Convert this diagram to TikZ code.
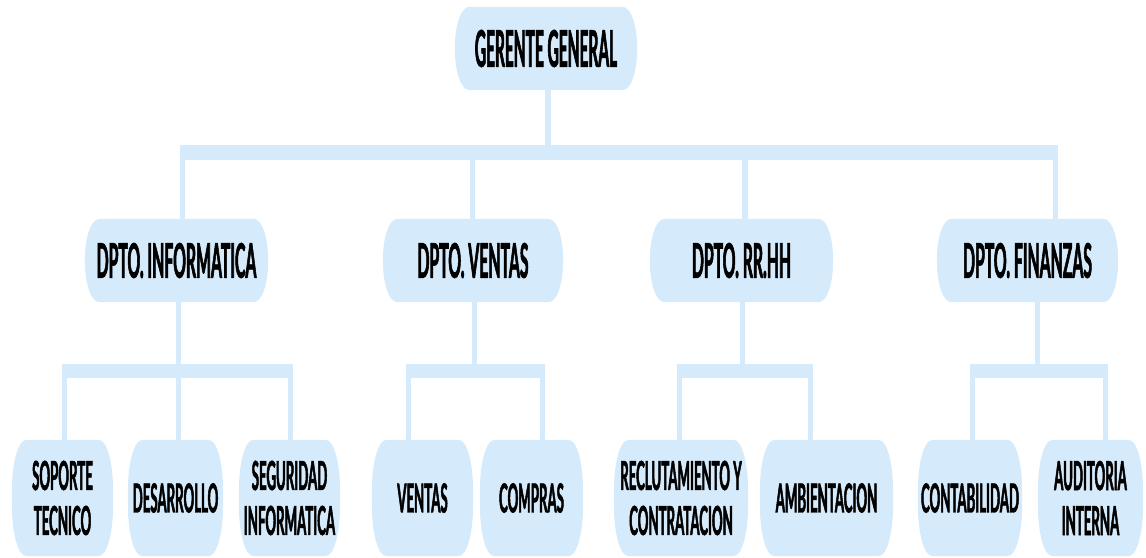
\documentclass[tikz,border=0pt]{standalone}
\usepackage{fontspec}
\setmainfont{Lato}[FakeStretch=0.33, FakeBold=1.2]
\newfontfamily\letrajefe{Lato}[FakeStretch=0.305, FakeBold=1.2]
\usetikzlibrary{calc}
\definecolor{celeste}{RGB}{213,234,250}
\tikzset{
	barril/.style={inner sep=0pt, align=center, path picture={
		\fill[celeste] let \p1=(path picture bounding box.south west), \p2=(path picture bounding box.north east) in
		(\x1+10pt,\y2) -- (\x2-10pt,\y2) .. controls (\x2-4.5pt,\y2) and (\x2,\y2-0.45*#1) .. (\x2,\y2-#1)
		-- (\x2,\y1+#1) .. controls (\x2,\y1+0.45*#1) and (\x2-4.5pt,\y1) .. (\x2-10pt,\y1)
		-- (\x1+10pt,\y1) .. controls (\x1+4.5pt,\y1) and (\x1,\y1+0.45*#1) .. (\x1,\y1+#1)
		-- (\x1,\y2-#1) .. controls (\x1,\y2-0.45*#1) and (\x1+4.5pt,\y2) .. cycle;}},
	barril/.default=28pt,
	jefe/.style={barril, minimum height=2.075cm, font=\letrajefe\bfseries\fontsize{36}{43}\selectfont},
	depto/.style={barril, minimum height=2.075cm, font=\bfseries\fontsize{34}{40}\selectfont},
	hoja/.style={barril=35pt, minimum height=2.9cm, font=\bfseries\fontsize{28.5}{32}\selectfont},
	linea/.style={draw=celeste, line width=3.6pt},
	barra/.style={draw=celeste, line width=10pt}
}

\begin{document}
\begin{tikzpicture}[x=0.025cm, y=-0.025cm]
		%%%%% START %%%%%
		\useasboundingbox (0, 0) rectangle (1146, 558);
		
		\node[jefe, minimum width=4.55cm] (gg) at (546, 48.5) {GERENTE GENERAL};
		
		\node[depto, minimum width=4.575cm] (inf) at (176.5, 260.5) {DPTO. INFORMATICA};
		\node[depto, minimum width=4.5cm] (ven) at (473, 260.5) {DPTO. VENTAS};
		\node[depto, minimum width=4.575cm] (rrhh) at (741.5, 260.5) {DPTO. RR.HH};
		\node[depto, minimum width=4.525cm] (fin) at (1027.5, 260.5) {DPTO. FINANZAS};
		
		\node[hoja, minimum width=2.525cm] (sop) at (62.5, 498) {SOPORTE\\TECNICO};
		\node[hoja, minimum width=2.375cm] (des) at (175.5, 498) {DESARROLLO};
		\node[hoja, minimum width=2.525cm] (seg) at (289.5, 498) {SEGURIDAD\\INFORMATICA};
		\node[hoja, minimum width=2.525cm] (vta) at (422.5, 498) {VENTAS};
		\node[hoja, minimum width=2.575cm] (com) at (531.5, 498) {COMPRAS};
		\node[hoja, minimum width=3.35cm] (rec) at (681, 498) {RECLUTAMIENTO Y\\CONTRATACION};
		\node[hoja, minimum width=3.325cm] (amb) at (826.5, 498) {AMBIENTACION};
		\node[hoja, minimum width=2.6cm] (con) at (970, 498) {CONTABILIDAD};
		\node[hoja, minimum width=2.625cm] (aud) at (1090.5, 498) {AUDITORIA\\INTERNA};
		
		% barra principal
		\coordinate (bg) at (548, 152.5);
		\coordinate (b1) at (182.5, 152.5);
		\coordinate (b2) at (472.5, 152.5);
		\coordinate (b3) at (745, 152.5);
		\coordinate (b4) at (1055.5, 152.5);
		\draw[barra] ($(b1)+(-2.5,0)$) -- ($(b4)+(2.5,0)$);
		\draw[linea] (gg.south -| bg) -- (bg);
		\draw[linea] (b1) -- (b1 |- inf.north);
		\draw[linea] (b2) -- (b2 |- ven.north);
		\draw[linea] (b3) -- (b3 |- rrhh.north);
		\draw[linea] (b4) -- (b4 |- fin.north);
		
		% barras de departamentos
		\coordinate (d1) at (178.5, 371);
		\coordinate (d2) at (474.5, 371);
		\coordinate (d3) at (742.5, 371);
		\coordinate (d4) at (1037.5, 371);
		\coordinate (s11) at (64.5, 371);
		\coordinate (s12) at (178.5, 371);
		\coordinate (s13) at (290.5, 371);
		\coordinate (s21) at (408.5, 371);
		\coordinate (s22) at (542.5, 371);
		\coordinate (s31) at (679.5, 371);
		\coordinate (s32) at (810.5, 371);
		\coordinate (s41) at (972.5, 371);
		\coordinate (s42) at (1105.5, 371);
		
		\draw[barra] ($(s11)+(-2.5,0)$) -- ($(s13)+(2.5,0)$);
		\draw[barra] ($(s21)+(-2.5,0)$) -- ($(s22)+(2.5,0)$);
		\draw[barra] ($(s31)+(-2.5,0)$) -- ($(s32)+(2.5,0)$);
		\draw[barra] ($(s41)+(-2.5,0)$) -- ($(s42)+(2.5,0)$);
		
		\draw[linea] (d1 |- inf.south) -- (d1);
		\draw[linea] (d2 |- ven.south) -- (d2);
		\draw[linea] (d3 |- rrhh.south) -- (d3);
		\draw[linea] (d4 |- fin.south) -- (d4);
		
		\draw[linea] (s11) -- (s11 |- sop.north);
		\draw[linea] (s12) -- (s12 |- des.north);
		\draw[linea] (s13) -- (s13 |- seg.north);
		\draw[linea] (s21) -- (s21 |- vta.north);
		\draw[linea] (s22) -- (s22 |- com.north);
		\draw[linea] (s31) -- (s31 |- rec.north);
		\draw[linea] (s32) -- (s32 |- amb.north);
		\draw[linea] (s41) -- (s41 |- con.north);
		\draw[linea] (s42) -- (s42 |- aud.north);
		
		%%%%% END %%%%%
\end{tikzpicture}
\end{document}
